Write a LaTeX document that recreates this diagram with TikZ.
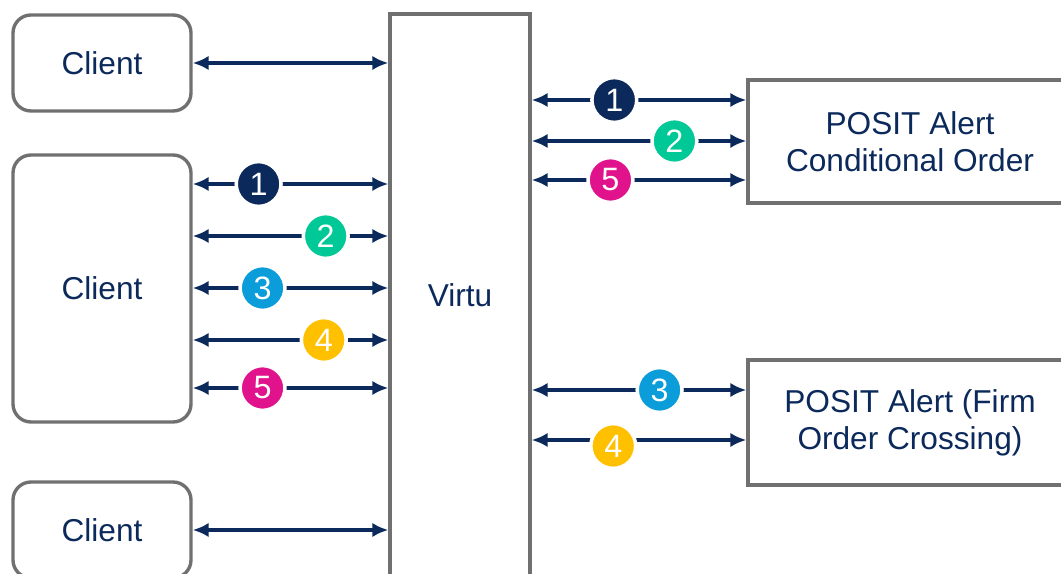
\documentclass[tikz,border=0pt]{standalone}
\usepackage{fontspec}
\setmainfont{Liberation Sans}
\usetikzlibrary{arrows.meta}
\definecolor{navy}{HTML}{0B2A5B}
\definecolor{boxgray}{HTML}{707070}
\definecolor{cone}{HTML}{0B2A5B}
\definecolor{ctwo}{HTML}{00C896}
\definecolor{cthree}{HTML}{0A9DD9}
\definecolor{cfour}{HTML}{FFC000}
\definecolor{cfive}{HTML}{E0138C}
\tikzset{
  box/.style={draw=boxgray, line width=2.4pt, fill=white, text=navy, align=center,
    inner sep=0pt, font=\fontsize{22.5}{26.5}\selectfont},
  client/.style={box, rounded corners=0.45cm, minimum width=4.45cm},
  link/.style={navy, line width=2.2pt,
    {Latex[length=0.4cm,width=0.36cm]}-{Latex[length=0.4cm,width=0.36cm]}},
  num/.style={circle, fill=#1, draw=white, line width=2.5pt, text=white,
    minimum size=1.12cm, inner sep=0pt, font=\fontsize{23}{23}\selectfont}
}
\begin{document}
\begin{tikzpicture}
  \useasboundingbox (0,0) rectangle (26.525,14.35);
  % boxes
  \node[client, minimum height=2.4cm] (cl1) at (2.55,12.775) {Client};
  \node[client, minimum height=6.675cm] (cl2) at (2.55,7.1375) {Client};
  \node[client, minimum height=2.4cm] (cl3) at (2.55,1.1) {Client};
  \node[box, minimum width=3.5cm, minimum height=14.05cm] (virtu) at (11.5,6.975) {Virtu};
  \node[box, minimum width=8.1cm, minimum height=3.075cm] (cond) at (22.75,10.8125) {POSIT Alert\\Conditional Order};
  \node[box, minimum width=8.1cm, minimum height=3.125cm] (firm) at (22.75,3.7875) {POSIT Alert (Firm\\Order Crossing)};
  % rows
  \coordinate (a1) at (0,9.75);
  \coordinate (a2) at (0,8.45);
  \coordinate (a3) at (0,7.15);
  \coordinate (a4) at (0,5.85);
  \coordinate (a5) at (0,4.65);
  \coordinate (b1) at (0,11.85);
  \coordinate (b2) at (0,10.825);
  \coordinate (b5) at (0,9.85);
  \coordinate (b3) at (0,4.6);
  \coordinate (b4) at (0,3.35);
  % client side
  \draw[link] (cl1.east) -- (cl1 -| virtu.west);
  \draw[link] (cl3.east) -- (cl3 -| virtu.west);
  \draw[link] (cl2.east |- a1) -- node[num=cone, pos=0.337] (n1) {1} (virtu.west |- a1);
  \draw[link] (cl2.east |- a2) -- node[num=ctwo, pos=0.68] (n2) {2} (virtu.west |- a2);
  \draw[link] (cl2.east |- a3) -- node[num=cthree, pos=0.357] (n3) {3} (virtu.west |- a3);
  \draw[link] (cl2.east |- a4) -- node[num=cfour, pos=0.67] (n4) {4} (virtu.west |- a4);
  \draw[link] (cl2.east |- a5) -- node[num=cfive, pos=0.357] (n5) {5} (virtu.west |- a5);
  % POSIT side
  \draw[link] (virtu.east |- b1) -- node[num=cone, pos=0.385] (m1) {1} (cond.west |- b1);
  \draw[link] (virtu.east |- b2) -- node[num=ctwo, pos=0.665] (m2) {2} (cond.west |- b2);
  \draw[link] (virtu.east |- b5) -- node[num=cfive, pos=0.367] (m5) {5} (cond.west |- b5);
  \draw[link] (virtu.east |- b3) -- node[num=cthree, pos=0.596] (m3) {3} (firm.west |- b3);
  \draw[link] (virtu.east |- b4) -- node[num=cfour, pos=0.38, yshift=-0.15cm] (m4) {4} (firm.west |- b4);
\end{tikzpicture}
\end{document}
